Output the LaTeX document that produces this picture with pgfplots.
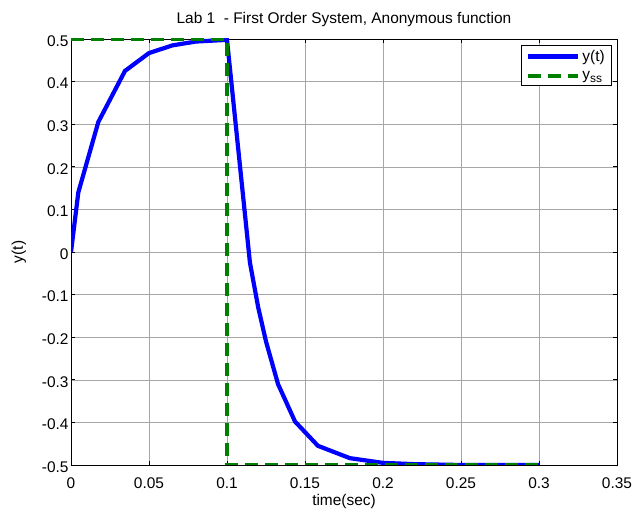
\documentclass[border=0pt]{standalone}
\usepackage{pgfplots}
\pgfplotsset{compat=1.18}
\usepackage{fontspec}
\setmainfont{Liberation Sans}

\definecolor{mblue}{RGB}{0,0,255}
\definecolor{mgreen}{RGB}{0,128,0}

\newcommand{\mfont}{\fontsize{15.5}{18}\selectfont}

\begin{document}
\begin{tikzpicture}
  \begin{axis}[
    name=ax,
    scale only axis,
    width=546bp, height=426bp,
    xmin=0, xmax=0.35, ymin=-0.5, ymax=0.5,
    xtick={0,0.05,...,0.35},
    xticklabels={0,0.05,0.1,0.15,0.2,0.25,0.3,0.35},
    ytick={-0.5,-0.4,...,0.5},
    yticklabels={-0.5,-0.4,-0.3,-0.2,-0.1,0,0.1,0.2,0.3,0.4,0.5},
    tick align=inside,
    major tick length=4bp,
    tick style={black, line width=0.6bp},
    axis line style={black, line width=0.8bp},
    grid=major,
    major grid style={gray!70, line width=0.5bp},
    ticklabel style={font=\mfont},
    xticklabel style={yshift=-9bp},
    yticklabel style={xshift=1bp, yshift=-2bp},
    title={Lab 1\ \ - First Order System, Anonymous function},
    title style={font=\mfont, yshift=3bp},
    xlabel={time(sec)},
    ylabel={y(t)},
    label style={font=\mfont},
    xlabel style={yshift=1bp},
    ylabel style={yshift=9bp},
    legend style={at={(rel axis cs:0.991,0.986)}, anchor=north east,
      font=\mfont, draw=black, line width=0.6bp,
      inner xsep=5bp, inner ysep=3bp, row sep=4bp},
    legend cell align=left,
    legend image code/.code={\draw[#1] (0bp,0bp) -- (50bp,0bp);},
  ]
    \addplot[mblue, line width=4.2bp] coordinates {
      (0,0) (0.0047,0.14) (0.0175,0.305) (0.0346,0.425) (0.05,0.467)
      (0.065,0.485) (0.08,0.494) (0.1,0.498)
      (0.1147,-0.025) (0.12,-0.13) (0.125,-0.21) (0.1327,-0.31)
      (0.1436,-0.398) (0.1583,-0.455) (0.1788,-0.484) (0.2,-0.495)
      (0.22,-0.498) (0.25,-0.5) (0.3,-0.5)
    };
    \addlegendentry{y(t)}
    \addplot[mgreen, line width=3.6bp, dash pattern=on 13bp off 7bp] coordinates {
      (0,0.5) (0.1,0.5) (0.1,-0.5) (0.3,-0.5)
    };
    \addlegendentry{y\raisebox{-0.4ex}{\fontsize{12}{14}\selectfont ss}}
  \end{axis}
  \pgfresetboundingbox
  \path[use as bounding box] ([shift={(-71bp,-47bp)}]ax.south west)
    rectangle ([shift={(19bp,39bp)}]ax.north east);
\end{tikzpicture}
\end{document}
